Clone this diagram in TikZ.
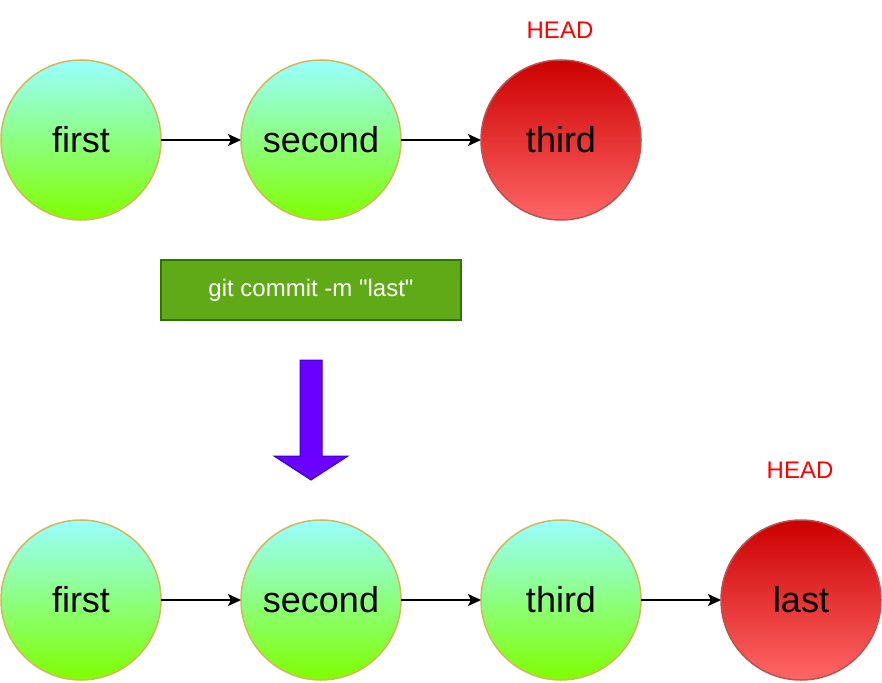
\documentclass[tikz,border=0pt]{standalone}
\usepackage{fontspec}
\setmainfont{Liberation Sans}
\newfontfamily\cmdfont{Liberation Sans}
\usetikzlibrary{arrows.meta,positioning}

\definecolor{commitTop}{HTML}{99FFFF}
\definecolor{commitBottom}{HTML}{80FF00}
\definecolor{commitLine}{HTML}{D6B656}
\definecolor{headTop}{HTML}{CC0000}
\definecolor{headBottom}{HTML}{FF6666}
\definecolor{headLine}{HTML}{B85450}
\definecolor{cmdFill}{HTML}{60A917}
\definecolor{cmdLine}{HTML}{2D7600}
\definecolor{stepFill}{HTML}{6A00FF}
\definecolor{stepLine}{HTML}{3700CC}

\tikzset{
  commit/.style={circle, minimum size=160pt, inner sep=0pt, outer sep=0pt,
    draw=commitLine, line width=1.5pt, top color=commitTop, bottom color=commitBottom,
    font=\fontsize{36}{40}\selectfont},
  headcommit/.style={commit, draw=headLine, top color=headTop, bottom color=headBottom},
  headlabel/.style={text=red, font=\fontsize{24}{28}\selectfont},
  cmdbox/.style={rectangle, minimum width=300pt, minimum height=60pt, fill=cmdFill,
    draw=cmdLine, line width=1.5pt, text=white, font=\cmdfont\fontsize{24}{28}\selectfont},
  link/.style={-{Stealth[length=13pt,width=12pt,inset=3pt]}, line width=1.5pt}
}

\begin{document}
\begin{tikzpicture}[x=1pt, y=-1pt]
      \useasboundingbox (0,0) rectangle (882,682);

      %%before the commit
      \node[commit] (first) at (81,140) {first};
      \node[commit] (second) at (321,140) {second};
      \node[headcommit] (third) at (561,140) {third};
      \node[headlabel] (head) at (560,30) {HEAD};

        \draw[link] (first) -- (second);
        \draw[link] (second) -- (third);

      %%command
      \node[cmdbox] (cmd) at (311,290) {git commit -m "last"};

      %%down arrow
      \draw[fill=stepFill, draw=stepLine, line width=1pt]
        (300,360) -- (322,360) -- (322,456) -- (348,456) -- (311,480)
        -- (274,456) -- (300,456) -- cycle;

      %%after the commit
      \node[commit] (firstB) at (81,600) {first};
      \node[commit] (secondB) at (321,600) {second};
      \node[commit] (thirdB) at (561,600) {third};
      \node[headcommit] (last) at (801,600) {last};
      \node[headlabel] (headB) at (800,470) {HEAD};

        \draw[link] (firstB) -- (secondB);
        \draw[link] (secondB) -- (thirdB);
        \draw[link] (thirdB) -- (last);
\end{tikzpicture}
\end{document}
